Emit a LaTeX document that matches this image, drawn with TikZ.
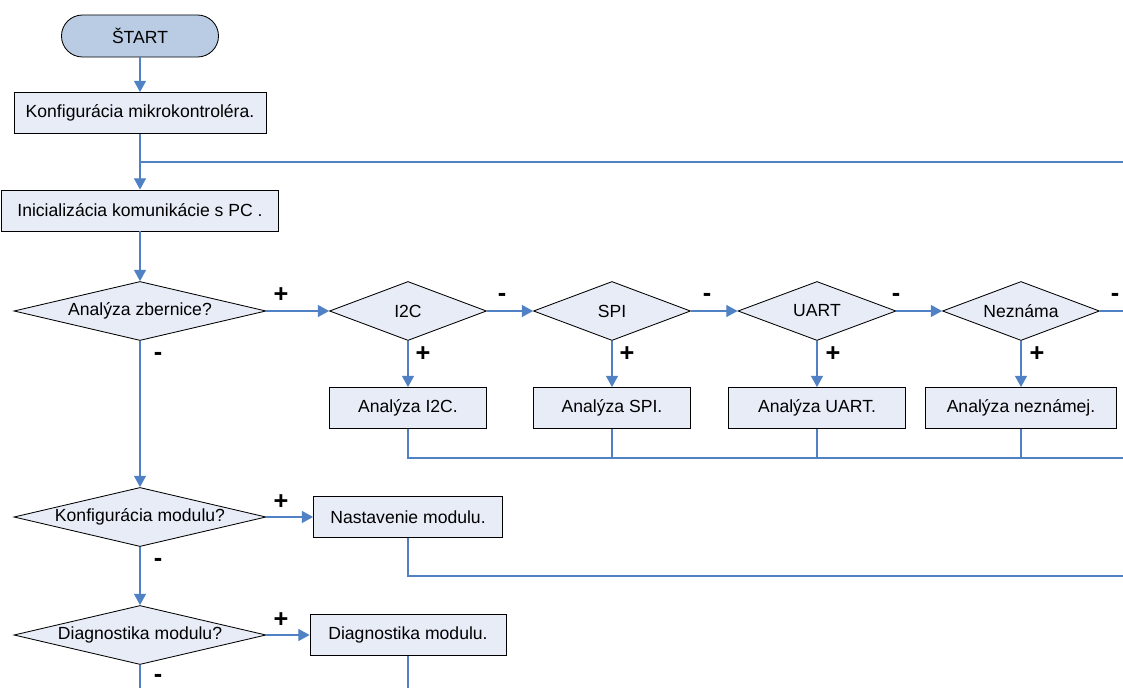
\documentclass[tikz,border=0pt]{standalone}
\usepackage{fontspec}
\setmainfont{Liberation Sans}
\usetikzlibrary{shapes.geometric,arrows.meta}
\definecolor{linka}{RGB}{79,129,196}
\definecolor{vypln}{RGB}{231,236,247}
\definecolor{startv}{RGB}{185,204,228}
\begin{document}
\begin{tikzpicture}[x=0.025cm,y=-0.025cm,
    font=\fontsize{12.5}{15}\selectfont,
    start/.style={draw,fill=startv,line width=0.6pt,rounded corners=0.525cm,
      minimum width=3.925cm,minimum height=1.05cm,inner sep=0pt},
    krok/.style={draw,fill=vypln,line width=0.6pt,minimum height=1.025cm,inner sep=0pt},
    otazka/.style={draw,fill=vypln,line width=0.6pt,diamond,aspect=4,inner sep=0pt,
      minimum height=1.475cm},
    znak/.style={font=\fontsize{18}{18}\selectfont\bfseries,inner sep=0pt},
    spoj/.style={draw=linka,line width=0.8pt},
    sipka/.style={spoj,-{Triangle[length=0.28cm,width=0.3cm]}}]
      \useasboundingbox (0,0) rectangle (1123,688);
      \draw
        (140,36) node[start] (start){ŠTART}
        (140,113) node[krok,minimum width=6.3cm] (mcu){Konfigurácia mikrokontroléra.}
        (140,210.5) node[krok,minimum width=6.925cm] (pc){Inicializácia komunikácie s PC .}
        (140,311) node[otazka,minimum width=6.3cm] (zbernica){Analýza zbernice?}
        (408,311) node[otazka,minimum width=3.925cm] (i2c){I2C}
        (612,311) node[otazka,minimum width=3.925cm] (spi){SPI}
        (817,311) node[otazka,minimum width=3.95cm] (uart){UART}
        (1021,311) node[otazka,minimum width=3.925cm] (nezn){Neznáma}
        (408,408) node[krok,minimum width=3.925cm] (ai2c){Analýza I2C.}
        (612,408) node[krok,minimum width=3.925cm] (aspi){Analýza SPI.}
        (817,408) node[krok,minimum width=4.425cm] (auart){Analýza UART.}
        (1021,408) node[krok,minimum width=4.775cm] (anezn){Analýza neznámej.}
        (140,517) node[otazka,minimum width=6.3cm] (konfmod){Konfigurácia modulu?}
        (408,517) node[krok,minimum width=4.725cm] (nast){Nastavenie modulu.}
        (140,635) node[otazka,minimum width=6.3cm] (diagq){Diagnostika modulu?}
        (408,635) node[krok,minimum width=4.9cm] (diag){Diagnostika modulu.};
      \draw
        (281,295) node[znak] (p1){+}
        (158,356) node[znak] (m1){-}
        (423,354) node[znak] (p2){+}
        (502,297) node[znak] (m2){-}
        (627,354) node[znak] (p3){+}
        (707,297) node[znak] (m3){-}
        (833,354) node[znak] (p4){+}
        (896,297) node[znak] (m4){-}
        (1037,354) node[znak] (p5){+}
        (1115,297) node[znak] (m5){-}
        (281,502) node[znak] (p6){+}
        (158,562) node[znak] (m6){-}
        (281,620) node[znak] (p7){+}
        (158,678) node[znak] (m7){-};
      \coordinate (r1) at (1123,162);
      \coordinate (r2) at (1123,311);
      \coordinate (r3) at (1123,458);
      \coordinate (r4) at (1123,576);
      \coordinate (k1) at (140,688);
      \coordinate (k2) at (408,688);
      \begin{scope}[spoj]
        \draw (r1) -- (r1 -| mcu);
        \draw (nezn) -- (r2);
        \draw (ai2c) |- (r3);
        \draw (aspi) -- (aspi |- r3);
        \draw (auart) -- (auart |- r3);
        \draw (anezn) -- (anezn |- r3);
        \draw (nast) |- (r4);
        \draw (diag) -- (k2);
        \draw (diagq) -- (k1);
      \end{scope}
      \begin{scope}[sipka]
        \draw (start) to (mcu);
        \draw (mcu) to (pc);
        \draw (pc) to (zbernica);
        \draw (zbernica) to (i2c);
        \draw (i2c) to (spi);
        \draw (spi) to (uart);
        \draw (uart) to (nezn);
        \draw (i2c) to (ai2c);
        \draw (spi) to (aspi);
        \draw (uart) to (auart);
        \draw (nezn) to (anezn);
        \draw (zbernica) to (konfmod);
        \draw (konfmod) to (nast);
        \draw (konfmod) to (diagq);
        \draw (diagq) to (diag);
      \end{scope}
    \end{tikzpicture}
\end{document}
